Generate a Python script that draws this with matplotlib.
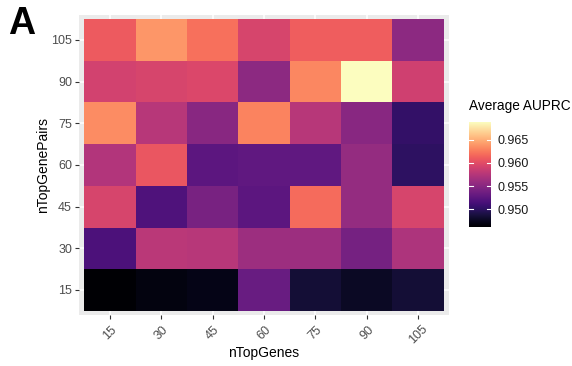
import numpy as np
import matplotlib
matplotlib.use("Agg")
import matplotlib.pyplot as plt
from matplotlib.colors import Normalize

plt.rcParams['font.family'] = ['Liberation Sans', 'DejaVu Sans']

n_top_genes = [15, 30, 45, 60, 75, 90, 105]
n_top_gene_pairs = [15, 30, 45, 60, 75, 90, 105]

vmin_val = 0.9461
vmax_val = 0.9689

# rows: nTopGenePairs (15 .. 105), columns: nTopGenes (15 .. 105)
auprc_pairs_15 = [0.9461, 0.9468, 0.9470, 0.9532, 0.9484, 0.9477, 0.9484]
auprc_pairs_30 = [0.9516, 0.9577, 0.9575, 0.9561, 0.9561, 0.9539, 0.9570]
auprc_pairs_45 = [0.9593, 0.9518, 0.9541, 0.9525, 0.9618, 0.9557, 0.9593]
auprc_pairs_60 = [0.9573, 0.9607, 0.9525, 0.9527, 0.9527, 0.9557, 0.9500]
auprc_pairs_75 = [0.9634, 0.9575, 0.9550, 0.9630, 0.9575, 0.9550, 0.9502]
auprc_pairs_90 = [0.9591, 0.9593, 0.9596, 0.9552, 0.9632, 0.9689, 0.9589]
auprc_pairs_105 = [0.9609, 0.9639, 0.9621, 0.9593, 0.9611, 0.9611, 0.9552]

values = np.array([auprc_pairs_15, auprc_pairs_30, auprc_pairs_45, auprc_pairs_60,
                   auprc_pairs_75, auprc_pairs_90, auprc_pairs_105])

W, H = 572, 366
fig = plt.figure(figsize=(W / 100, H / 100), dpi=100)

# main panel
ax = fig.add_axes([79 / W, 1 - 315 / H, (449 - 79) / W, (315 - 15) / H])
ax.set_facecolor('#EBEBEB')
norm = Normalize(vmin=vmin_val, vmax=vmax_val)
cmap = plt.get_cmap('magma')
xs = np.arange(len(n_top_genes) + 1) - 0.5
ys = np.arange(len(n_top_gene_pairs) + 1) - 0.5
ax.set_xticks(range(len(n_top_genes)))
ax.set_yticks(range(len(n_top_gene_pairs)))
ax.grid(True, color='white', linewidth=1.1)
ax.set_axisbelow(True)
ax.pcolormesh(xs, ys, values, cmap=cmap, norm=norm, zorder=2)
ax.set_xlim(-0.6, len(n_top_genes) - 0.4)
ax.set_ylim(-0.6, len(n_top_gene_pairs) - 0.4)
ax.set_xticklabels([str(v) for v in n_top_genes], rotation=45, ha='center',
                   va='top', color='#4D4D4D', fontsize=9)
ax.set_yticklabels([str(v) for v in n_top_gene_pairs], color='#4D4D4D', fontsize=9)
ax.tick_params(axis='both', length=3, width=0.8, color='#333333', pad=2)
ax.tick_params(axis='x', pad=3)
for s in ax.spines.values():
    s.set_visible(False)
ax.set_xlabel('nTopGenes', fontsize=10)
ax.xaxis.set_label_coords(0.5, (315 - 353) / 300)
ax.xaxis.label.set_va('center')
ax.set_ylabel('nTopGenePairs', fontsize=10)
ax.yaxis.set_label_coords((43 - 79) / 370, 0.5)
ax.yaxis.label.set_va('center')

# colorbar
cax = fig.add_axes([469 / W, 1 - 227 / H, (491 - 469) / W, (227 - 122) / H])
grad = np.linspace(vmin_val, vmax_val, 256).reshape(-1, 1)
cax.imshow(grad, cmap=cmap, norm=norm, aspect='auto', origin='lower',
           extent=[0, 1, vmin_val, vmax_val])
cax.set_xlim(0, 1)
cax.set_ylim(vmin_val, vmax_val)
cax.set_xticks([])
cbar_ticks = [0.950, 0.955, 0.960, 0.965]
for t in cbar_ticks:
    cax.plot([0, 0.2], [t, t], color='white', lw=0.8)
    cax.plot([0.8, 1], [t, t], color='white', lw=0.8)
cax.yaxis.tick_right()
cax.set_yticks(cbar_ticks)
cax.set_yticklabels([f"{t:.3f}" for t in cbar_ticks], fontsize=9, color='#1A1A1A')
cax.tick_params(axis='y', length=0, pad=5)
for s in cax.spines.values():
    s.set_visible(False)
fig.text(469 / W, 1 - 106 / H, 'Average AUPRC', fontsize=9.8, va='center', ha='left')

# panel tag
fig.text(8 / W, 1 - 24 / H, 'A', fontsize=27, fontweight='bold', va='center', ha='left')

fig.savefig('out.png', dpi=100)
